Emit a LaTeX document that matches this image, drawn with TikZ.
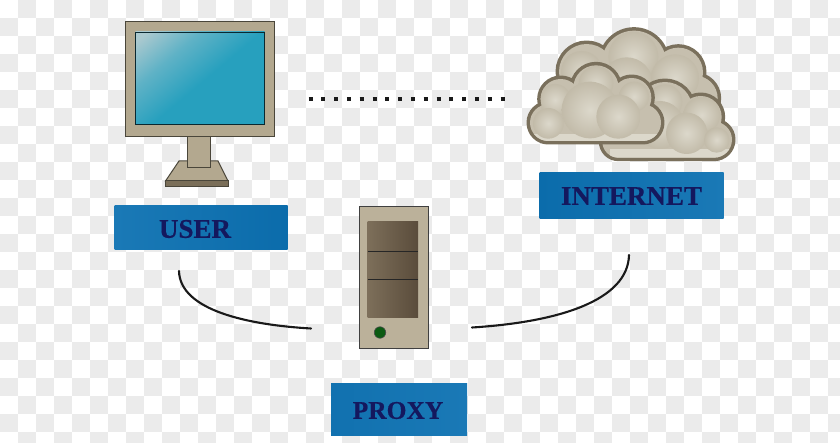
\documentclass[tikz,border=0pt]{standalone}
\usepackage{fontspec}
\setmainfont{Liberation Serif}
\newfontfamily\lblfont{Liberation Serif Bold}[FakeBold=0.5]
\usetikzlibrary{shadings}
\definecolor{chk}{HTML}{EBEBEB}
\definecolor{frameedge}{HTML}{4A463A}
\definecolor{framefill}{HTML}{B3A88F}
\definecolor{basedark}{HTML}{7A6E58}
\definecolor{scrC}{HTML}{27A0BE}
\definecolor{scrM}{HTML}{5FB2C6}
\definecolor{scrL}{HTML}{ABC9CF}
\definecolor{panelL}{HTML}{7D6F5A}
\definecolor{panelR}{HTML}{5A4C3B}
\definecolor{lblA}{HTML}{1A79B6}
\definecolor{lblB}{HTML}{0B6CAB}
\definecolor{lbltext}{HTML}{14185E}
\definecolor{cloudline}{HTML}{7A705C}
\definecolor{cloudbody}{HTML}{C6BFAE}
\definecolor{cloudhi}{HTML}{DCD8CB}
\definecolor{clouddk}{HTML}{C2BBA9}
\definecolor{ledgreen}{HTML}{0B5A12}
\pgfdeclareverticalshading{scrshade}{100bp}{color(0bp)=(scrC); color(48bp)=(scrC); color(66bp)=(scrM); color(82bp)=(scrL); color(100bp)=(scrL)}
\tikzset{
  labelbox/.style={draw=none,inner sep=0pt,minimum height=#1},
  labeltext/.style={inner sep=0pt,text=lbltext},
  edgeline/.style={draw=frameedge,line width=1pt},
  link/.style={draw=black!90,line width=2.1pt,line cap=round},
  puff/.style={inner color=cloudhi,outer color=clouddk},
  cloudedge/.style={draw=cloudline,line width=7pt,line join=round},
}
\newcommand\cloudA{(230,170) circle (83) (372,143) circle (96) (505,172) circle (74) (555,250) circle (68) (230,170) -- (372,143) -- (505,172) -- (555,250) -- (555,310) -- (230,310) -- cycle}
\newcommand\cloudB{(115,323) circle (55) (152,252) circle (60) (258,219) circle (68) (365,248) circle (59) (398,323) circle (55) (152,252) -- (258,219) -- (365,248) -- (398,323) -- (398,378) -- (115,378) -- (115,323) -- cycle}
\newcommand\cloudC{(465,283) circle (82) (572,306) circle (63) (612,374) circle (54) (325,380) circle (48) (465,283) -- (572,306) -- (612,374) -- (612,428) -- (325,428) -- (325,380) -- cycle}
\begin{document}
\begin{tikzpicture}[x=1pt,y=-1pt]
\useasboundingbox (0,0) rectangle (840,443);
% transparency checker
\foreach \cx in {0,...,46}{\foreach \cy in {0,...,24}{%
  \ifodd\numexpr\cx+\cy\relax
    \fill[chk] (18*\cx,18*\cy) rectangle ++(18,18);
  \fi}}
% clouds
\begin{scope}[shift={(510,15)},x=0.33333pt,y=-0.33333pt]
  \draw[cloudedge] \cloudA;
  \fill[cloudbody] \cloudA;
  \begin{scope}
    \clip \cloudA;
    \shade[puff] (215,170) circle (62);
    \shade[puff] (370,125) circle (75);
    \shade[puff] (350,205) circle (78);
    \shade[puff] (495,190) circle (72);
  \end{scope}
  \draw[cloudedge] \cloudC;
  \fill[cloudbody] \cloudC;
  \begin{scope}
    \clip \cloudC;
    \fill[cloudhi] (300,402) rectangle (680,430);
    \shade[puff] (465,260) circle (52);
    \shade[puff] (575,300) circle (55);
    \shade[puff] (450,330) circle (72);
    \shade[puff] (530,355) circle (62);
    \shade[puff] (620,375) circle (38);
  \end{scope}
  \draw[cloudedge] \cloudB;
  \fill[cloudbody] \cloudB;
  \begin{scope}
    \clip \cloudB;
    \fill[cloudhi] (50,358) rectangle (460,380);
    \shade[puff] (135,255) circle (48);
    \shade[puff] (258,205) circle (52);
    \shade[puff] (372,245) circle (45);
    \shade[puff] (115,325) circle (46);
    \shade[puff] (240,285) circle (85);
    \shade[puff] (325,305) circle (66);
  \end{scope}
\end{scope}
% monitor
\draw[edgeline,fill=framefill] (179,161) -- (218,161) -- (228,181) -- (165.5,181) -- cycle;
\draw[edgeline,fill=basedark] (165.5,181) rectangle (228.5,186.5);
\node[edgeline,fill=framefill,inner sep=0pt,minimum width=23pt,minimum height=31pt] (neck) at (198.5,152.5) {};
\node[edgeline,fill=framefill,inner sep=0pt,minimum width=149pt,minimum height=115pt] (monitor) at (199.5,79.5) {};
\path[shading=scrshade,shading angle=40] (135.5,32) rectangle (264.5,124);
\node[draw=black!75!scrC,line width=0.9pt,inner sep=0pt,minimum width=129pt,minimum height=92pt] (screen) at (200,78) {};
% dots
\coordinate (dotL) at (308.5,99.5);
\coordinate (dotR) at (504.5,99.5);
\draw[draw=black!90,line width=4pt,dash pattern=on 4pt off 8.8pt] (dotL) -- (dotR);
% tower
\node[draw=black!75,line width=1pt,fill=framefill!90!white,inner sep=0pt,minimum width=69pt,minimum height=141pt] (tower) at (393.5,277.5) {};
\shade[left color=panelL,right color=panelR] (367.5,222) rectangle (418,318);
\draw[black!85,line width=1pt] (367.5,252) -- (418,252) (367.5,280) -- (418,280);
\node[circle,draw=black!70,fill=ledgreen,line width=0.6pt,inner sep=0pt,minimum size=11.5pt] (led) at (380,332.5) {};
% labels
\node[labelbox=44pt,left color=lblA,right color=lblB,minimum width=173pt] (userbox) at (201,228) {};
\node[labelbox=46.5pt,left color=lblB,right color=lblA,minimum width=184pt] (netbox) at (631.5,195.75) {};
\node[labelbox=52pt,left color=lblB!60!lblA,right color=lblA,minimum width=136pt] (proxybox) at (399,409) {};
\node[labeltext,font=\lblfont\fontsize{27}{27}\selectfont] (usertext) at (195,229) {USER};
\node[labeltext,font=\lblfont\fontsize{27}{27}\selectfont] (nettext) at (631.5,196) {INTERNET};
\node[labeltext,font=\lblfont\fontsize{25.5}{26}\selectfont] (proxytext) at (398,410.5) {PROXY};
% connectors
\coordinate (userEnd) at (179,271);
\coordinate (proxyL) at (311,328.5);
\coordinate (proxyR) at (472,327.5);
\coordinate (netEnd) at (629,255);
\draw[link] (userEnd) .. controls (180,311) and (250,325) .. (proxyL);
\draw[link] (proxyR) .. controls (560,322) and (628,300) .. (netEnd);
\end{tikzpicture}
\end{document}
